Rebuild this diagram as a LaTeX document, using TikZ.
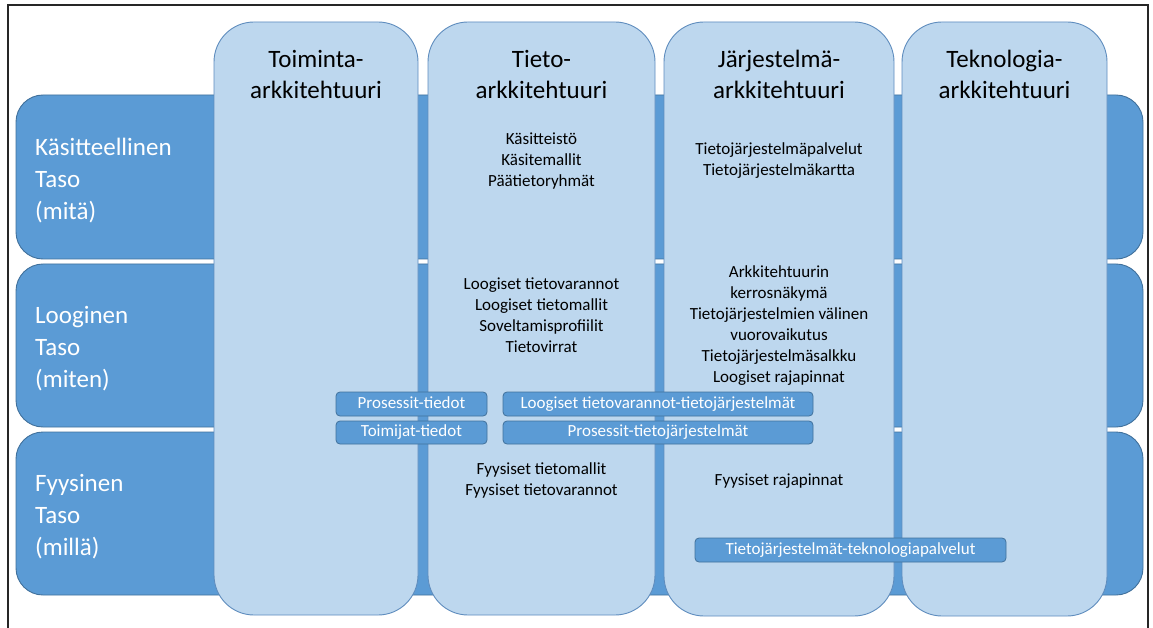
\documentclass[tikz,border=0pt]{standalone}
\usepackage{fontspec}
\setmainfont{Carlito}
\definecolor{bandblue}{HTML}{5B9BD5}
\definecolor{bandedge}{HTML}{41719C}
\definecolor{colfill}{HTML}{BDD7EE}
\definecolor{coledge}{HTML}{5F8DBE}
\begin{document}
\begin{tikzpicture}[x=1pt,y=-1pt,
  band/.style={fill=bandblue,draw=bandedge,line width=0.9pt,rounded corners=27pt},
  column/.style={fill=colfill,draw=coledge,line width=0.9pt,rounded corners=40pt},
  head/.style={font=\fontsize{25}{31}\selectfont,align=center,inner sep=0pt},
  rowlabel/.style={font=\fontsize{25}{32}\selectfont,align=left,text=white,anchor=west,inner sep=0pt},
  item/.style={font=\fontsize{17}{21}\selectfont,align=center,inner sep=0pt},
  linkbox/.style={fill=bandblue,draw=bandedge,line width=0.8pt,rounded corners=4pt,
    text=white,font=\fontsize{17}{20}\selectfont,inner sep=0pt,
    text height=12pt,text depth=4pt}]
\useasboundingbox (0,0) rectangle (1153,628);
\fill[white] (0,0) rectangle (1153,628);
% outer frame
\draw[black!85,line width=1.2pt] (8,628) -- (8,5) -- (1148,5) -- (1148,628);

% horizontal level bands
\path[band] (16,95) rectangle (1143,259);
\path[band] (16,264) rectangle (1143,427);
\path[band] (16,432) rectangle (1143,595);

% vertical architecture columns
\path[column] (214,22) rectangle (418,615);
\path[column] (428,22) rectangle (655,615);
\path[column] (664,22) rectangle (894,616);
\path[column] (902,22) rectangle (1107,616);

% column headings
\node[head] (h1) at (316,74) {Toiminta-\\arkkitehtuuri};
\node[head] (h2) at (541.5,74) {Tieto-\\arkkitehtuuri};
\node[head] (h3) at (779,74) {Järjestelmä-\\arkkitehtuuri};
\node[head] (h4) at (1004.5,74) {Teknologia-\\arkkitehtuuri};

% level labels
\node[rowlabel] (r1) at (35,181) {Käsitteellinen\\Taso\\(mitä)};
\node[rowlabel] (r2) at (35,349) {Looginen\\Taso\\(miten)};
\node[rowlabel] (r3) at (35,517) {Fyysinen\\Taso\\(millä)};

% cell contents
\node[item] (c21) at (541.5,161) {Käsitteistö\\Käsitemallit\\Päätietoryhmät};
\node[item] (c31) at (779,161) {Tietojärjestelmäpalvelut\\Tietojärjestelmäkartta};
\node[item] (c22) at (541.5,315.5) {Loogiset tietovarannot\\Loogiset tietomallit\\Soveltamisprofiilit\\Tietovirrat};
\node[item] (c32) at (779,326) {Arkkitehtuurin\\kerrosnäkymä\\Tietojärjestelmien välinen\\vuorovaikutus\\Tietojärjestelmäsalkku\\Loogiset rajapinnat};
\node[item] (c23) at (541.5,480) {Fyysiset tietomallit\\Fyysiset tietovarannot};
\node[item] (c33) at (779,481) {Fyysiset rajapinnat};

% cross-column links
\node[linkbox,minimum width=151pt,minimum height=24pt] (l1) at (411.5,404) {Prosessit-tiedot};
\node[linkbox,minimum width=310pt,minimum height=24pt] (l2) at (658,404) {Loogiset tietovarannot-tietojärjestelmät};
\node[linkbox,minimum width=151pt,minimum height=23pt] (l3) at (411.5,432.5) {Toimijat-tiedot};
\node[linkbox,minimum width=310pt,minimum height=23pt] (l4) at (658,432.5) {Prosessit-tietojärjestelmät};
\node[linkbox,minimum width=311pt,minimum height=24pt] (l5) at (850.5,550) {Tietojärjestelmät-teknologiapalvelut};
\end{tikzpicture}
\end{document}
